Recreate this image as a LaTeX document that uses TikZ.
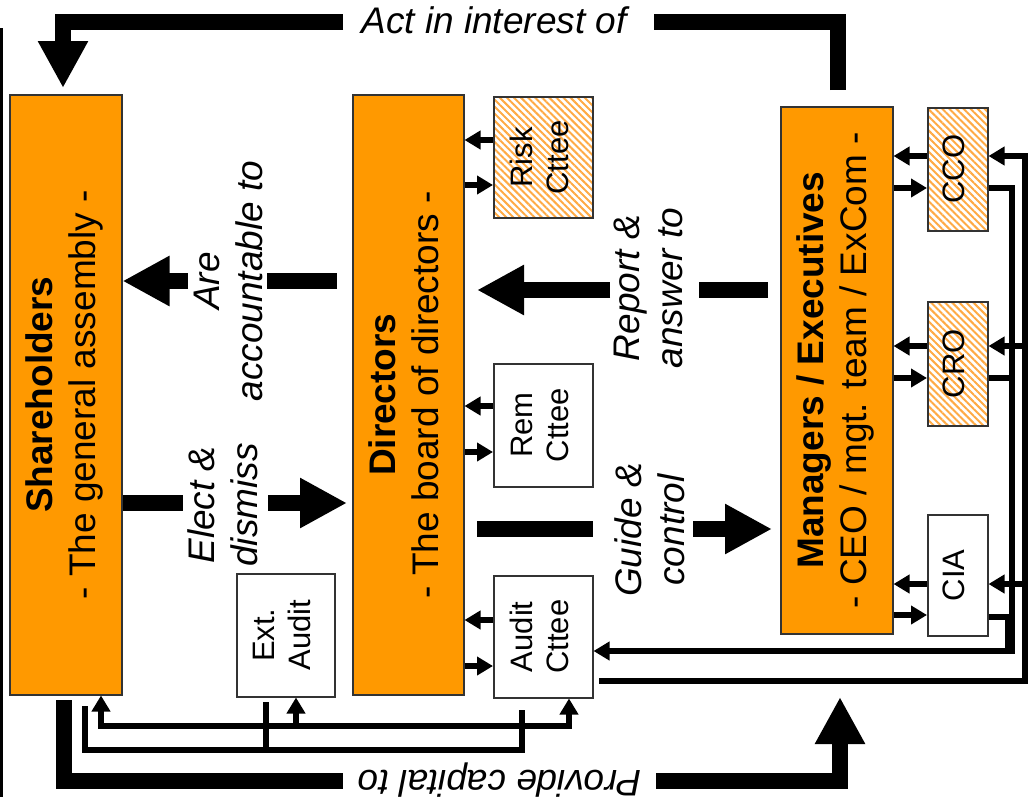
\documentclass[tikz,border=0pt]{standalone}
\usepackage{fontspec}
\setmainfont{Liberation Sans}
\usetikzlibrary{arrows.meta,patterns.meta,calc}
\definecolor{org}{HTML}{FF9900}
\definecolor{hatch}{HTML}{FFAA44}
\definecolor{edge}{HTML}{333333}
\newcommand{\rottext}[1]{\rotatebox{90}{\begin{tabular}{@{}c@{}}#1\end{tabular}}}
\begin{document}
\begin{tikzpicture}[x=1pt,y=-1pt,
  box/.style={draw=edge, line width=1.5pt, inner sep=0pt, anchor=north west},
  mainbox/.style={box, fill=org, font=\fontsize{37}{43}\selectfont},
  smallbox/.style={box, fill=white, font=\fontsize{31}{36}\selectfont},
  hatchbox/.style={smallbox, pattern={Lines[angle=-45,distance=5pt,line width=2pt]}, pattern color=hatch},
  wire/.style={line width=5.2pt},
  wirearrow/.style={wire, -{Triangle[width=18pt,length=16pt]}},
  bar/.style={line width=16pt, line join=miter},
  bigarrow/.style={bar, -{Triangle[width=47pt,length=47pt]}},
  lbl/.style={font=\fontsize{37}{43}\selectfont\itshape, align=center, inner sep=0pt}
]
\useasboundingbox (0,0) rectangle (1033,807);
\fill[white] (0,0) rectangle (1033,807);

% left border line
\draw[line width=2.5pt] (1.5,28) -- (1.5,797);

% main boxes
\node[mainbox, minimum width=112pt, minimum height=600pt] (sh) at (9,94)
  {\rottext{\textbf{Shareholders}\\- The general assembly -}};
\node[mainbox, minimum width=111pt, minimum height=600pt] (dir) at (352,94)
  {\rottext{\textbf{Directors}\\- The board of directors -}};
\node[mainbox, minimum width=112pt, minimum height=527pt] (mgr) at (780,106)
  {\rottext{\textbf{Managers / Executives}\\- CEO / mgt. team / ExCom -}};

% committees
\node[hatchbox, minimum width=99pt, minimum height=121pt] (risk) at (493,96) {\rottext{Risk\\Cttee}};
\node[smallbox, minimum width=99pt, minimum height=123pt] (rem) at (493,363) {\rottext{Rem\\Cttee}};
\node[smallbox, minimum width=99pt, minimum height=122pt] (audit) at (493,575) {\rottext{Audit\\Cttee}};
\node[smallbox, minimum width=98pt, minimum height=123pt] (ext) at (236,573) {\rottext{Ext.\\Audit}};
\node[hatchbox, minimum width=60pt, minimum height=123pt] (cco) at (927,107) {\rottext{CCO}};
\node[hatchbox, minimum width=60pt, minimum height=124pt] (cro) at (927,301) {\rottext{CRO}};
\node[smallbox, minimum width=60pt, minimum height=121pt] (cia) at (927,514) {\rottext{CIA}};

% small arrows directors <-> committees
\draw[wirearrow] (risk.west |- 0,140) -- (dir.east |- 0,140);
\draw[wirearrow] (dir.east |- 0,185) -- (risk.west |- 0,185);
\draw[wirearrow] (rem.west |- 0,406) -- (dir.east |- 0,406);
\draw[wirearrow] (dir.east |- 0,452) -- (rem.west |- 0,452);
\draw[wirearrow] (audit.west |- 0,620) -- (dir.east |- 0,620);
\draw[wirearrow] (dir.east |- 0,666) -- (audit.west |- 0,666);

% small arrows managers <-> officers
\draw[wirearrow] (cco.west |- 0,156) -- (mgr.east |- 0,156);
\draw[wirearrow] (mgr.east |- 0,188) -- (cco.west |- 0,188);
\draw[wirearrow] (cro.west |- 0,346) -- (mgr.east |- 0,346);
\draw[wirearrow] (mgr.east |- 0,378) -- (cro.west |- 0,378);
\draw[wirearrow] (cia.west |- 0,584) -- (mgr.east |- 0,584);
\draw[wirearrow] (mgr.east |- 0,615) -- (cia.west |- 0,615);

% right-hand wiring
\coordinate (outend) at (599,681);
\draw[wirearrow, line join=miter] (outend) -- (1025,681) -- (1025,156) -- (cco.east |- 0,156);
\draw[wirearrow] (1025,346) -- (cro.east |- 0,346);
\draw[wirearrow] (1025,584) -- (cia.east |- 0,584);
\draw[wirearrow, line join=miter] (cco.east |- 0,188) -- (1012,188) -- (1012,651) -- (audit.east |- 0,651);
\draw[wire] (cro.east |- 0,378) -- (1012,378);
\draw[wire, line join=miter] (cia.east |- 0,617) -- (1008,617) -- (1008,651);

% bottom wiring
\draw[wire, line cap=rect] (101,726) -- (569,726);
\draw[wirearrow] (101,726) -- (101,726 |- sh.south);
\draw[wirearrow] (296,726) -- (296,726 |- ext.south);
\draw[wirearrow] (569,726) -- (569,726 |- audit.south);
\coordinate (b1) at (85,706);
\coordinate (b2) at (522,710);
\coordinate (b3) at (266,702);
\draw[wire, line join=miter] (b1) -- (85,750) -- (522,750) -- (b2);
\draw[wire] (b3) -- (266,750);

% big arrows
\draw[bar] (337,281) -- (267,281);
\draw[bigarrow] (188,281) -- (sh.east |- 0,281);
\draw[bar] (sh.east |- 0,503) -- (183,503);
\draw[bigarrow] (268,503) -- (347,503);
\draw[bar] (768,290) -- (699,290);
\draw[bigarrow] (610,290) -- (477,290);
\draw[bar] (477,529) -- (593,529);
\draw[bigarrow] (693,529) -- (772,529);

% top arrow
\draw[bar] (838,90) -- (838,22) -- (654,22);
\draw[bigarrow] (343,22) -- (63,22) -- (63,88);
% bottom arrow
\draw[bar] (64,700) -- (64,781) -- (343,781);
\draw[bigarrow] (656,781) -- (840,781) -- (840,697);

% labels
\node[lbl, rotate=90] (lacc) at (228,281) {Are\\accountable to};
\node[lbl, rotate=90] (lel) at (223,505) {Elect \&\\dismiss};
\node[lbl, rotate=90] (lrep) at (648,288) {Report \&\\answer to};
\node[lbl, rotate=90] (lgui) at (650,530) {Guide \&\\control};
\node[lbl, anchor=base] (lact) at (494,33) {Act in interest of};
\node[lbl, rotate=180] (lprov) at (500,780) {Provide capital to};
\end{tikzpicture}
\end{document}
